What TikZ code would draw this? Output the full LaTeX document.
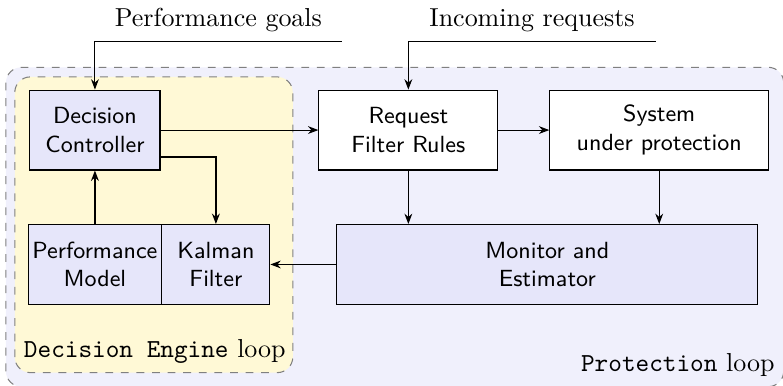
\documentclass[tikz,border=0pt]{standalone}
\usepackage{tikz}
\usetikzlibrary{positioning, calc, arrows.meta}

\definecolor{loopblue}{RGB}{240,240,252}
\definecolor{loopyellow}{RGB}{255,249,214}
\definecolor{blockfill}{RGB}{230,230,250}

\begin{document}
\begin{tikzpicture}[
    >={Stealth[length=4pt]},
    block/.style={draw, rectangle, align=center, font=\sffamily\small, minimum height=1.08cm},
    engine/.style={block, fill=blockfill},
    loopbox/.style={draw=gray, dashed, rounded corners=6pt},
    flow/.style={->},
    feedback/.style={->, thick}
]
    \useasboundingbox (0,0) rectangle (10.59,5.22);

    % ================= LOOPS =================
    \draw[loopbox, fill=loopblue] (0.08,-0.01) rectangle (10.60,4.31);
    \node[anchor=south east] at (10.60,0) {\texttt{Protection} loop};

    \draw[loopbox, fill=loopyellow] (0.20,0.18) rectangle (3.96,4.18);
    \node[anchor=south west] at (0.20,0.18) {\texttt{Decision Engine} loop};

    % ================= BLOCKS =================
    \node[engine, minimum width=1.76cm] (DC) at (1.284,3.461) {Decision\\Controller};
    \node[block, fill=white, minimum width=2.42cm] (RFR) at (5.523,3.461) {Request\\Filter Rules};
    \node[block, fill=white, minimum width=2.96cm] (SYS) at (8.916,3.461) {System\\under protection};

    \node[engine, minimum width=1.81cm, inner sep=1pt] (PM) at (1.284,1.643) {Performance\\Model};
    \node[engine, minimum width=1.46cm] (KF) at (2.920,1.643) {Kalman\\Filter};
    \node[engine, minimum width=5.69cm] (MON) at (7.402,1.643) {Monitor and\\Estimator};

    % ================= INPUTS =================
    \coordinate (goals) at (4.624,4.664);
    \coordinate (requests) at (8.869,4.664);
    \draw[flow] (goals) -- node[above] {Performance goals} (goals -| DC) -- (DC);
    \draw[flow] (requests) -- node[above] {Incoming requests} (requests -| RFR) -- (RFR);

    % ================= CONNECTIONS =================
    \draw[flow] (DC) -- (RFR);
    \draw[flow] (RFR) -- (SYS);
    \draw[flow] (RFR) -- (RFR |- MON.north);
    \draw[flow] (SYS) -- (SYS |- MON.north);
    \draw[flow] (MON) -- (KF);

    % inner loop
    \draw[feedback] ([yshift=-0.365cm]DC.east) -| (KF.north);
    \draw[feedback] (PM) -- (DC);

\end{tikzpicture}
\end{document}
